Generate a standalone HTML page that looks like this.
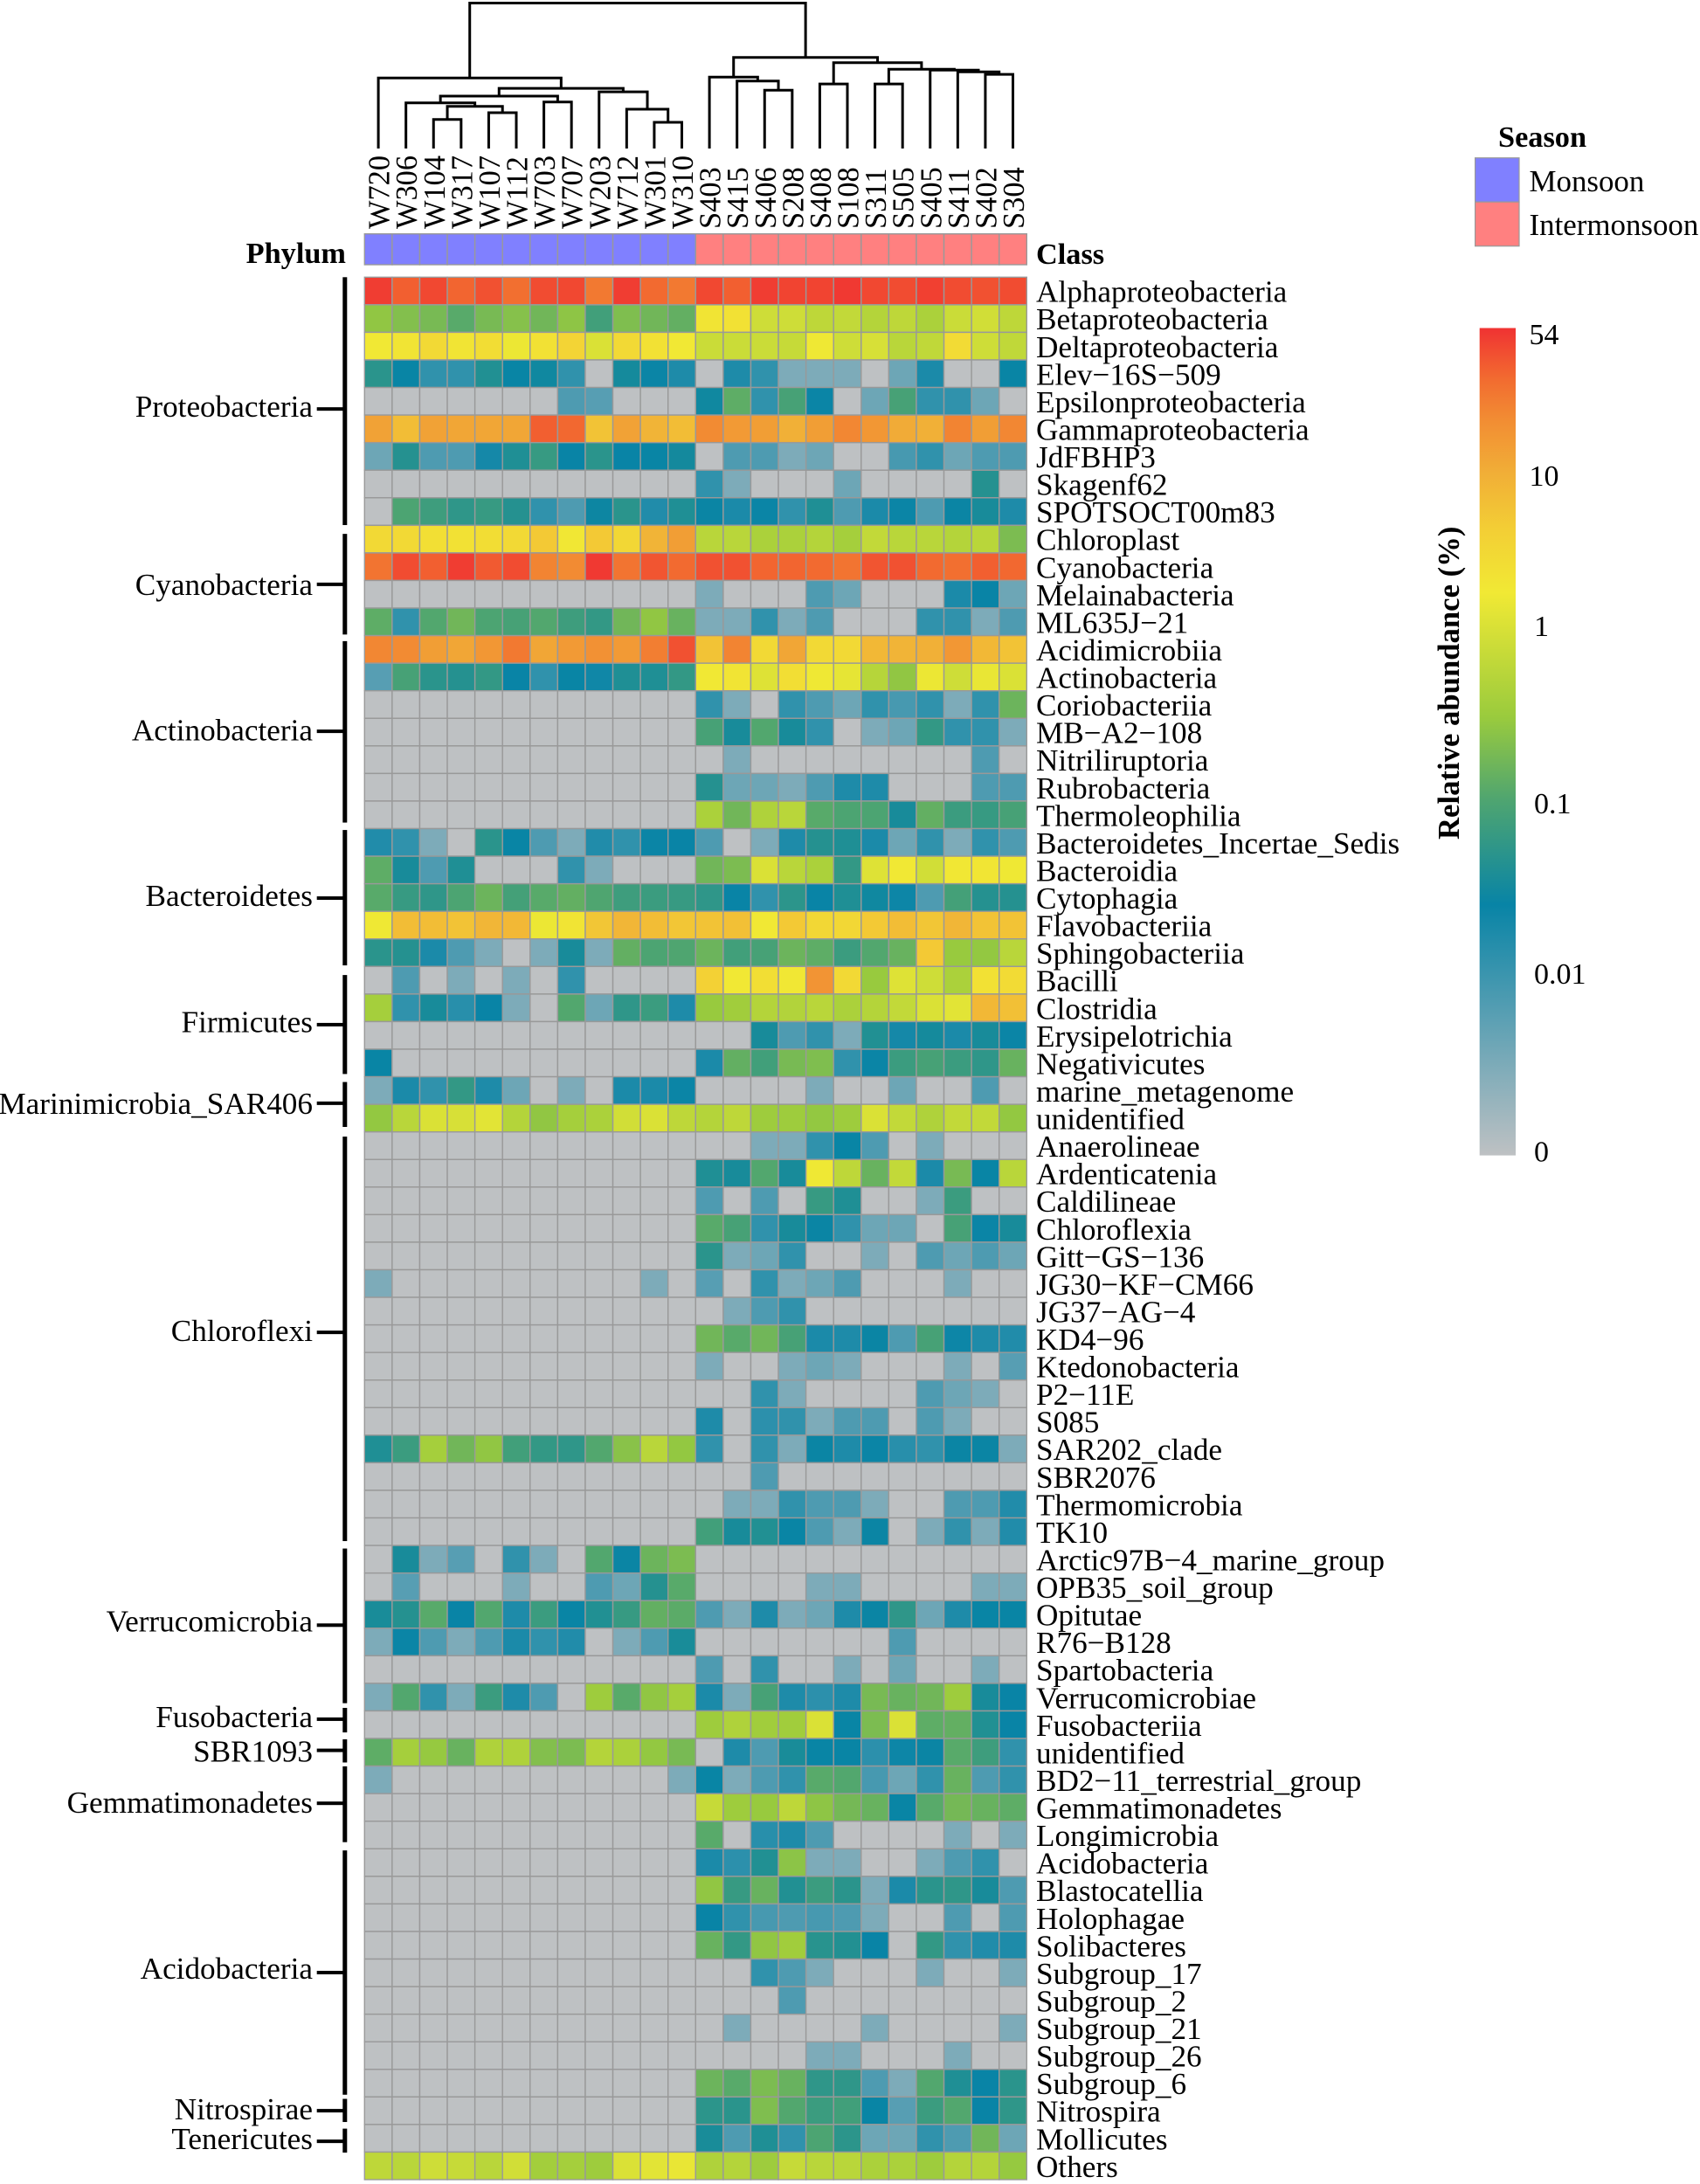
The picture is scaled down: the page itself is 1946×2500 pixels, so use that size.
<!DOCTYPE html>
<html lang="en">
<head>
<meta charset="utf-8">
<title>Relative abundance heatmap</title>
<style>
html,body{margin:0;padding:0;background:#fff;width:1946px;height:2500px;overflow:hidden}
svg{display:block}
text{font-family:"Liberation Serif",serif;fill:#000}
</style>
</head>
<body>
<svg id="chart" xmlns="http://www.w3.org/2000/svg" width="1946" height="2500" viewBox="0 0 1946 2500">
  <defs><linearGradient id="barGradient" x1="0" y1="1" x2="0" y2="0"></linearGradient></defs>
  <rect x="0" y="0" width="1946" height="2500" fill="#fff"/>
  <text x="396" y="301" text-anchor="end" font-size="34.3" font-weight="bold">Phylum</text>
  <text x="1186" y="302" font-size="34.3" font-weight="bold">Class</text>
  <text x="1715" y="168" font-size="34.3" font-weight="bold">Season</text>
  <text transform="translate(1670,961) rotate(-90)" font-size="34.7" font-weight="bold">Relative abundance (%)</text>
</svg>
<script>
const sampleNames = ["W720","W306","W104","W317","W107","W112","W703","W707","W203","W712","W301","W310","S403","S415","S406","S208","S408","S108","S311","S505","S405","S411","S402","S304"];
const sampleSeasons = ["Monsoon","Monsoon","Monsoon","Monsoon","Monsoon","Monsoon","Monsoon","Monsoon","Monsoon","Monsoon","Monsoon","Monsoon","Intermonsoon","Intermonsoon","Intermonsoon","Intermonsoon","Intermonsoon","Intermonsoon","Intermonsoon","Intermonsoon","Intermonsoon","Intermonsoon","Intermonsoon","Intermonsoon"];
const seasonNames = ["Monsoon","Intermonsoon"];
const classNames = ["Alphaproteobacteria","Betaproteobacteria","Deltaproteobacteria","Elev−16S−509","Epsilonproteobacteria","Gammaproteobacteria","JdFBHP3","Skagenf62","SPOTSOCT00m83","Chloroplast","Cyanobacteria","Melainabacteria","ML635J−21","Acidimicrobiia","Actinobacteria","Coriobacteriia","MB−A2−108","Nitriliruptoria","Rubrobacteria","Thermoleophilia","Bacteroidetes_Incertae_Sedis","Bacteroidia","Cytophagia","Flavobacteriia","Sphingobacteriia","Bacilli","Clostridia","Erysipelotrichia","Negativicutes","marine_metagenome","unidentified","Anaerolineae","Ardenticatenia","Caldilineae","Chloroflexia","Gitt−GS−136","JG30−KF−CM66","JG37−AG−4","KD4−96","Ktedonobacteria","P2−11E","S085","SAR202_clade","SBR2076","Thermomicrobia","TK10","Arctic97B−4_marine_group","OPB35_soil_group","Opitutae","R76−B128","Spartobacteria","Verrucomicrobiae","Fusobacteriia","unidentified","BD2−11_terrestrial_group","Gemmatimonadetes","Longimicrobia","Acidobacteria","Blastocatellia","Holophagae","Solibacteres","Subgroup_17","Subgroup_2","Subgroup_21","Subgroup_26","Subgroup_6","Nitrospira","Mollicutes","Others"];
const phylumNames = ["Proteobacteria","Cyanobacteria","Actinobacteria","Bacteroidetes","Firmicutes","Marinimicrobia_SAR406","Chloroflexi","Verrucomicrobia","Fusobacteria","SBR1093","Gemmatimonadetes","Acidobacteria","Nitrospirae","Tenericutes"];
const phylumBarStartRow = [0,9.31,13.2,20.05,25.31,29.19,31.17,46.11,51.89,53.03,54.01,57.06,66.07,67.15];
const phylumBarEndRow = [8.99,12.96,19.78,24.96,28.9,30.82,45.84,51.72,52.78,53.87,56.76,65.92,66.91,68.02];
const phylumTickRow = [4.78,11.14,16.47,22.52,27.11,29.96,38.27,48.89,52.3,53.43,55.35,61.49,66.5,67.61];
const phylumLabelDrop = [9,12,10.6,9,8.5,12,10,7,9,13,10.6,7,10,9];
const colorbarTicks = [54,10,1,0.1,0.01,0];
const colorbarTickLabels = ["54","10","1","0.1","0.01","0"];
/* relative abundance (%) per class row, per sample column */
const abundance = [
[52,36,46,34,42,30,44,46,26,52,32,26,46,36,52,48,48,54,46,44,50,44,42,44],
[.27,.22,.19,.12,.19,.23,.17,.26,.08,.21,.17,.14,2,2.2,.8,.8,.6,.65,.5,.6,.42,.75,.85,.6],
[1.7,2,3,2,2.6,1.5,2.2,3.5,1,3,2.2,1.7,.75,.75,.75,.7,1.6,.8,.95,.55,.62,2.8,.8,.62],
[.05,.026,.012,.012,.042,.026,.03,.012,0,.033,.024,.017,0,.017,.012,.003,.003,.003,0,.004,.018,0,0,.026],
[0,0,0,0,0,0,0,.007,.006,0,0,0,.03,.13,.012,.09,.024,0,.004,.09,.012,.012,.004,0],
[13,7,13,12,12,12,36,33,6,13,9,7,20,15,14,10,14,21,16,11,10,22,14,21],
[.004,.045,.007,.007,.02,.04,.065,.025,.05,.025,.026,.032,0,.007,.007,.003,.004,0,0,.008,.012,.004,.007,.007],
[0,0,0,0,0,0,0,0,0,0,0,0,.012,.003,0,0,0,.004,0,0,0,0,.045,0],
[0,.1,.075,.055,.065,.045,.012,.007,.028,.05,.016,.04,.027,.018,.024,.012,.04,.007,.018,.024,.007,.027,.035,.017],
[3,3,2.4,2.2,2.6,3,5,1.8,5,3.2,9,14,.55,.55,.42,.42,.5,.38,.65,.55,.55,.5,.55,.2],
[28,44,36,52,38,44,22,20,54,28,40,32,42,42,34,34,32,28,40,42,32,30,36,33],
[0,0,0,0,0,0,0,0,0,0,0,0,.003,0,0,0,.007,.004,0,0,0,.018,.025,.004],
[.13,.012,.11,.17,.1,.09,.11,.075,.06,.17,.27,.15,.003,.003,.012,.003,.007,0,0,0,.012,.012,.003,.007],
[21,20,14,12,16,26,12,15,18,15,24,42,6,22,3,12,3,3,8,9,10,16,8,6],
[.006,.09,.05,.045,.06,.025,.012,.026,.022,.04,.04,.06,1.7,2,1.1,2.5,1.6,1.3,.52,.27,1.5,.8,1.4,1],
[0,0,0,0,0,0,0,0,0,0,0,0,.012,.003,0,.012,.007,.004,.012,.008,.012,.003,.012,.16],
[0,0,0,0,0,0,0,0,0,0,0,0,.09,.035,.11,.035,.012,0,.003,.004,.06,.012,.012,.003],
[0,0,0,0,0,0,0,0,0,0,0,0,0,.003,0,0,0,0,0,0,0,0,.007,0],
[0,0,0,0,0,0,0,0,0,0,0,0,.045,.004,.004,.003,.007,.017,.017,0,0,0,.007,.007],
[0,0,0,0,0,0,0,0,0,0,0,0,.42,.17,.45,.55,.12,.1,.1,.035,.14,.07,.065,.09],
[.016,.012,.003,0,.05,.026,.007,.003,.016,.012,.024,.025,.007,0,.003,.017,.045,.04,.018,.004,.012,.003,.012,.007],
[.13,.035,.007,.04,0,0,0,.012,.003,0,0,0,.17,.2,1,.55,.42,.06,1.1,1.7,.85,1.8,1.9,1.6],
[.12,.065,.055,.1,.16,.085,.12,.14,.105,.075,.07,.065,.055,.025,.012,.052,.025,.04,.03,.023,.007,.085,.045,.045],
[1.6,7,7,6,8.5,8,1.5,2,5.5,8.5,7,5.5,6,6.5,1.7,5,3.2,3.2,5,7,5.5,8.5,6,6],
[.05,.045,.018,.007,.003,0,.003,.035,.003,.14,.1,.105,.16,.08,.09,.16,.13,.07,.11,.15,5,.3,.28,.55],
[0,.007,0,.003,0,.003,0,.012,0,0,0,0,4,1.7,2.5,1.8,17,3,.3,1.1,.8,.42,2.2,2.8],
[.38,.012,.035,.014,.025,.003,0,.11,.004,.055,.07,.017,.3,.35,.5,.48,.55,.42,.5,.65,1,1.2,8,6.5],
[0,0,0,0,0,0,0,0,0,0,0,0,0,0,.035,.007,.012,.003,.042,.02,.033,.018,.035,.024],
[.026,0,0,0,0,0,0,0,0,0,0,0,.018,.14,.08,.19,.21,.012,.024,.07,.09,.07,.055,.15],
[.003,.018,.012,.06,.017,.004,0,.003,0,.018,.018,.024,0,0,0,0,.003,0,0,.004,0,0,.007,0],
[.28,.55,1,.95,1.2,.5,.27,.38,.42,.85,1,.6,.5,.6,.33,.33,.28,.33,1,.65,.45,.65,.65,.28],
[0,0,0,0,0,0,0,0,0,0,0,0,0,0,.003,.003,.012,.026,.007,0,.003,0,0,0],
[0,0,0,0,0,0,0,0,0,0,0,0,.04,.035,.11,.035,1.6,.6,.15,.65,.018,.19,.026,.55],
[0,0,0,0,0,0,0,0,0,0,0,0,.007,0,.007,0,.065,.04,0,0,.003,.07,0,0],
[0,0,0,0,0,0,0,0,0,0,0,0,.12,.09,.012,.035,.027,.012,.004,.004,0,.09,.024,.035],
[0,0,0,0,0,0,0,0,0,0,0,0,.05,.003,.004,.012,0,0,.003,0,.007,.004,.007,.004],
[.003,0,0,0,0,0,0,0,0,0,.003,0,.006,0,.012,.003,.004,.007,0,0,0,.003,0,0],
[0,0,0,0,0,0,0,0,0,0,0,0,0,.003,.007,.012,0,0,0,0,0,0,0,0],
[0,0,0,0,0,0,0,0,0,0,0,0,.17,.12,.17,.09,.018,.017,.027,.007,.09,.023,.017,.016],
[0,0,0,0,0,0,0,0,0,0,0,0,.003,0,0,.003,.004,.003,0,0,0,.003,0,.006],
[0,0,0,0,0,0,0,0,0,0,0,0,0,0,.012,.003,0,0,0,0,.007,.004,.003,0],
[0,0,0,0,0,0,0,0,0,0,0,0,.017,0,.013,.012,.003,.007,.007,0,.007,.003,0,0],
[.04,.07,.38,.17,.27,.08,.06,.055,.11,.24,.55,.28,.012,0,.012,.003,.027,.017,.024,.014,.012,.027,.027,.003],
[0,0,0,0,0,0,0,0,0,0,0,0,0,0,.007,0,0,0,0,0,0,0,0,0],
[0,0,0,0,0,0,0,0,0,0,0,0,0,.003,.003,.012,.007,.007,.003,0,0,.007,.007,.016],
[0,0,0,0,0,0,0,0,0,0,0,0,.08,.035,.042,.026,.007,.003,.027,0,.003,.012,.003,.016],
[0,.035,.003,.006,0,.012,.003,0,.11,.027,.16,.2,0,0,0,0,0,0,0,0,0,0,0,0],
[0,.006,0,0,0,.003,0,0,.007,.004,.045,.12,0,0,0,0,.003,.003,0,0,0,0,.003,.003],
[.036,.045,.12,.025,.11,.017,.07,.026,.042,.065,.14,.125,.007,.003,.017,.003,.004,.017,.027,.055,.004,.017,.026,.026],
[.003,.024,.007,.003,.007,.018,.012,.016,0,.003,.007,.036,0,0,0,0,0,0,0,.007,0,0,0,0],
[0,0,0,0,0,0,0,0,0,0,0,0,.007,0,.012,0,0,.003,0,.004,0,0,.003,0],
[.003,.11,.012,.003,.07,.017,.007,0,.33,.12,.27,.38,.018,.003,.09,.017,.013,.017,.19,.15,.17,.33,.035,.025],
[0,0,0,0,0,0,0,0,0,0,0,0,.33,.45,.35,.35,1,.026,.2,1,.13,.14,.042,.025],
[.13,.38,.29,.15,.45,.45,.22,.2,.5,.42,.28,.19,0,.017,.007,.036,.026,.026,.013,.023,.027,.12,.075,.012],
[.003,0,0,0,0,0,0,0,0,0,0,.003,.026,.003,.007,.012,.12,.11,.008,.004,.012,.15,.007,.012],
[0,0,0,0,0,0,0,0,0,0,0,0,.7,.33,.3,.6,.26,.18,.15,.026,.12,.18,.15,.13],
[0,0,0,0,0,0,0,0,0,0,0,0,.12,0,.014,.017,.007,0,0,0,0,.003,0,.003],
[0,0,0,0,0,0,0,0,0,0,0,0,.018,.013,.042,.25,.003,.003,0,0,.003,.007,.012,0],
[0,0,0,0,0,0,0,0,0,0,0,0,.27,.065,.15,.042,.07,.05,.003,.018,.05,.055,.035,.007],
[0,0,0,0,0,0,0,0,0,0,0,0,.025,.012,.008,.007,.008,.007,.003,0,0,.007,0,.007],
[0,0,0,0,0,0,0,0,0,0,0,0,.15,.06,.27,.35,.048,.043,.025,0,.06,.012,.016,.017],
[0,0,0,0,0,0,0,0,0,0,0,0,0,0,.012,.007,.003,0,0,0,.003,0,0,.003],
[0,0,0,0,0,0,0,0,0,0,0,0,0,0,0,.007,0,0,0,0,0,0,0,0],
[0,0,0,0,0,0,0,0,0,0,0,0,0,.003,0,0,0,0,.003,0,0,0,0,.003],
[0,0,0,0,0,0,0,0,0,0,0,0,0,0,0,0,.003,.003,0,0,0,.003,0,0],
[0,0,0,0,0,0,0,0,0,0,0,0,.16,.12,.2,.15,.055,.055,.007,.003,.11,.04,.025,.05],
[0,0,0,0,0,0,0,0,0,0,0,0,.052,.05,.21,.11,.07,.08,.026,.006,.07,.11,.025,.055],
[0,0,0,0,0,0,0,0,0,0,0,0,.036,.007,.04,.012,.1,.052,.004,.004,.012,.007,.17,.004],
[.6,.55,.8,.7,.55,.85,.36,.38,.33,1,1.2,1.4,.45,.5,.33,.7,.55,.55,.42,.42,.33,.5,.5,.29]
];
/* dendrogram merges: [childA, childB, height]; child >= 0 is a sample index, child < 0 is -(merge number) */
const dendroMerges = [
[2,3,.200],[4,5,.246],[-1,-2,.290],[1,-3,.314],[6,7,.320],[-4,-5,.360],
[10,11,.180],[9,-7,.270],[8,-8,.390],[-6,-9,.414],[0,-10,.485],
[14,15,.401],[13,-12,.464],[12,-13,.491],[16,17,.444],[18,19,.444],
[22,23,.510],[21,-17,.527],[20,-18,.539],[-16,-19,.545],[-15,-20,.590],
[-14,-21,.626],[-11,-22,1]
];

const svg = document.getElementById('chart');
const NS = 'http://www.w3.org/2000/svg';
const HEAT_LEFT = 417.3, HEAT_RIGHT = 1175.3, HEAT_TOP = 317.3, HEAT_BOTTOM = 2495;
const DENDRO_BASE = 170, DENDRO_SPAN = 166.5;
const BAR_LEFT = 1693.7, BAR_RIGHT = 1735, BAR_TOP = 375.5, BAR_BOTTOM = 1322.6;
const colW = (HEAT_RIGHT - HEAT_LEFT) / sampleNames.length;
const rowH = (HEAT_BOTTOM - HEAT_TOP) / classNames.length;
const seasonColor = { Monsoon: '#8080ff', Intermonsoon: '#ff8080' };

function xCol(i) { return HEAT_LEFT + i * colW; }
function yRow(r) { return HEAT_TOP + r * rowH; }
function yDendro(h) { return DENDRO_BASE - h * DENDRO_SPAN; }

/* colour-bar position in 0..1 for an abundance value (piecewise log scale) */
function scalePos(v) {
  const dom = [.001, .01, .1, 1, 10, 54];
  const rng = [.005, .2196, .4255, .6398, .8216, .9925];
  if (v <= 0) return 0;
  const lv = Math.log10(v);
  for (let i = 0; i < dom.length - 1; i++) {
    const a = Math.log10(dom[i]), b = Math.log10(dom[i + 1]);
    if (lv <= b || i === dom.length - 2) {
      const t = Math.min(1, Math.max(0, (lv - a) / (b - a)));
      return rng[i] + t * (rng[i + 1] - rng[i]);
    }
  }
  return 1;
}
const colorRamp = [
  [0, [190,193,195]], [.303, [8,132,166]], [.43, [79,165,112]], [.53, [154,203,61]],
  [.68, [241,233,52]], [.757, [243,206,53]], [.825, [241,174,55]], [.89, [242,140,51]],
  [.94, [242,106,48]], [1, [240,50,50]]
];
function rampColor(p) {
  for (let i = 0; i < colorRamp.length - 1; i++) {
    const [pa, ca] = colorRamp[i], [pb, cb] = colorRamp[i + 1];
    if (p <= pb) {
      const t = Math.max(0, (p - pa) / (pb - pa));
      return 'rgb(' + ca.map((c, k) => Math.round(c + t * (cb[k] - c))).join(',') + ')';
    }
  }
  return 'rgb(240,50,50)';
}
function make(tag, attrs, parent) {
  const el = document.createElementNS(NS, tag);
  for (const k in attrs) el.setAttribute(k, attrs[k]);
  (parent || svg).appendChild(el);
  return el;
}

/* dendrogram */
const dendroGroup = make('g', { fill: 'none', stroke: '#000', 'stroke-width': 3 });


const nodeX = [], nodeH = [];
function childX(c) { return c >= 0 ? xCol(c) + colW / 2 : nodeX[-c - 1]; }
function childY(c) { return c >= 0 ? DENDRO_BASE : yDendro(nodeH[-c - 1]); }
dendroMerges.forEach(function (m, k) {
  const xa = childX(m[0]), xb = childX(m[1]), ya = childY(m[0]), yb = childY(m[1]), y = yDendro(m[2]);
  nodeX[k] = (xa + xb) / 2;
  nodeH[k] = m[2];
  const link = make('path', { d: 'M' + xa + ' ' + ya + 'V' + y + 'H' + xb + 'V' + yb }, dendroGroup);
  
  
});

/* sample labels and season strip */
sampleNames.forEach(function (name, i) {
  const label = make('text', { transform: 'translate(' + (xCol(i) + colW / 2 + 12.5) + ',262) rotate(-90)', 'font-size': 34.4 });
  label.textContent = name;
  
  
  const cell = make('rect', { x: xCol(i), y: 267.7, width: colW, height: 35.3, fill: seasonColor[sampleSeasons[i]], stroke: '#999', 'stroke-width': 1.4 });
  
  
});

/* heatmap cells */
const cellGroup = make('g', { stroke: '#999', 'stroke-width': 1.4 });


abundance.forEach(function (row, r) {
  row.forEach(function (v, c) {
    const cell = make('rect', { x: xCol(c), y: yRow(r), width: colW, height: rowH, fill: rampColor(scalePos(v)) }, cellGroup);
    
    
  });
});

/* class labels */
classNames.forEach(function (name, r) {
  const label = make('text', { x: 1186, y: yRow(r) + rowH / 2 + 12.6, 'font-size': 35.2 });
  label.textContent = name;
  
  
});

/* phylum brackets */
phylumNames.forEach(function (name, i) {
  const bar = make('rect', { x: 392.3, y: yRow(phylumBarStartRow[i]), width: 5, height: yRow(phylumBarEndRow[i]) - yRow(phylumBarStartRow[i]), fill: '#000' });
  
  
  const tickY = yRow(phylumTickRow[i]);
  const tick = make('rect', { x: 362.7, y: tickY - 2, width: 31, height: 4, fill: '#000' });
  
  
  const label = make('text', { x: 358, y: tickY + phylumLabelDrop[i], 'text-anchor': 'end', 'font-size': 35.2 });
  label.textContent = name;
  
  
});

/* season legend */
seasonNames.forEach(function (name, i) {
  const swatch = make('rect', { x: 1688.6, y: 180.7 + i * 50.5, width: 50.4, height: 50.5, fill: seasonColor[name], stroke: '#999', 'stroke-width': 1.2 });
  
  
  const label = make('text', { x: 1750.5, y: 219 + i * 50, 'font-size': 34.9 });
  label.textContent = name;
  
  
});

/* colour bar */
const gradient = document.getElementById('barGradient');
colorRamp.forEach(function (stop) {
  const s = make('stop', { offset: stop[0], 'stop-color': rampColor(stop[0]) }, gradient);
});
const colorbar = make('rect', { x: BAR_LEFT, y: BAR_TOP, width: BAR_RIGHT - BAR_LEFT, height: BAR_BOTTOM - BAR_TOP, fill: 'url(#barGradient)' });


colorbarTicks.forEach(function (v, i) {
  const p = Math.max(scalePos(v), .005);
  const label = make('text', { x: v >= 10 ? 1750.5 : 1756, y: BAR_BOTTOM - p * (BAR_BOTTOM - BAR_TOP) + 11.5, 'font-size': 34 });
  label.textContent = colorbarTickLabels[i];
  
  
});
</script>
</body>
</html>
